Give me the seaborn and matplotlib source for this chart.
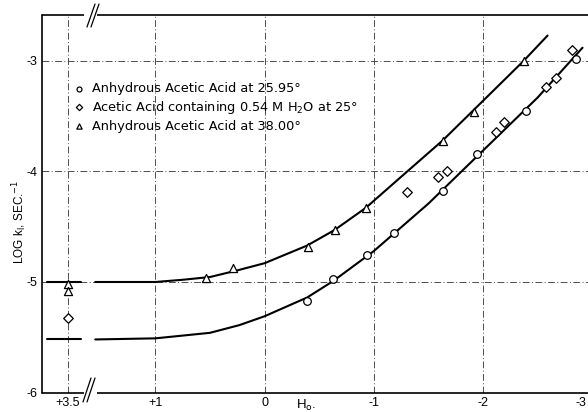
import numpy as np
import pandas as pd
import matplotlib
matplotlib.use("Agg")
import matplotlib.pyplot as plt
import matplotlib.transforms as mtransforms
import seaborn as sns
from matplotlib.lines import Line2D

# ---------------- data ----------------
h0_2595 = [-0.39, -0.63, -0.94, -1.18, -1.63, -1.94, -2.39, -2.85]
logk_2595 = [-5.17, -4.97, -4.76, -4.56, -4.18, -3.84, -3.45, -2.98]

h0_water = [3.5, -1.30, -1.59, -1.67, -2.12, -2.19, -2.58, -2.67, -2.81]
logk_water = [-5.33, -4.19, -4.05, -4.00, -3.64, -3.55, -3.24, -3.15, -2.90]

h0_3800 = [3.5, 3.5, 0.54, 0.29, -0.40, -0.64, -0.93, -1.63, -1.92, -2.37]
logk_3800 = [-5.02, -5.08, -4.96, -4.87, -4.68, -4.53, -4.33, -3.72, -3.46, -3.00]

# fitted curves (right of the axis break)
curve_upper_h = [1.55, 1.0, 0.75, 0.5, 0.25, 0.0, -0.39, -0.64, -0.925, -1.236, -1.629, -2.0, -2.37, -2.59]
curve_upper_logk = [-5.0, -5.0, -4.98, -4.955, -4.895, -4.83, -4.67, -4.53, -4.33, -4.06, -3.72, -3.36, -3.0, -2.77]
curve_lower_h = [1.55, 1.0, 0.5, 0.23, 0.0, -0.39, -0.63, -1.0, -1.5, -2.0, -2.5, -2.91]
curve_lower_logk = [-5.52, -5.51, -5.46, -5.39, -5.31, -5.14, -4.99, -4.72, -4.29, -3.81, -3.33, -2.88]
# fitted curves (left of the axis break, around H0 = +3.5)
curve_left_h = [4.95, 2.55]
curve_upper_left_logk = [-5.0, -5.0]
curve_lower_left_logk = [-5.52, -5.52]

x_ticks = [3.5, 1, 0, -1, -2, -3]
x_ticklabels = ["+3.5", "+1", "0", "-1", "-2", "-3"]
y_ticks = [-3, -4, -5, -6]
y_ticklabels = ["-3", "-4", "-5", "-6"]

labels = ["Anhydrous Acetic Acid at 25.95\u00b0",
          "Acetic Acid containing 0.54 M H$_2$O at 25\u00b0",
          "Anhydrous Acetic Acid at 38.00\u00b0"]

# ---------------- style ----------------
sns.set_theme(style="white")
plt.rcParams['font.family'] = ['Liberation Sans', 'DejaVu Sans']
plt.rcParams['mathtext.fontset'] = 'dejavusans'
plt.rcParams['text.color'] = 'black'

W, H = 588, 412
fig = plt.figure(figsize=(W / 100, H / 100), dpi=100)
fig.patch.set_facecolor("white")
ax = fig.add_axes([42 / W, 1 - 392.5 / H, (600 - 42) / W, 377.5 / H])
ax.set_facecolor("white")

# broken x axis: region above H0 = 1.55 is compressed
B, K = 1.55, 0.13
def fwd(x):
    x = np.asarray(x, dtype=float)
    return np.where(x <= B, x, B + (x - B) * K)
def inv(p):
    p = np.asarray(p, dtype=float)
    return np.where(p <= B, p, B + (p - B) / K)
ax.set_xscale("function", functions=(fwd, inv))
ax.set_xlim(5.3, -3.07)
ax.set_ylim(-6, -2.584)

# ticks and grid
ax.set_xticks(x_ticks)
ax.set_xticklabels(x_ticklabels)
ax.set_yticks(y_ticks)
ax.set_yticklabels(y_ticklabels)
ax.grid(True, linestyle=(0, (7, 2.5, 1, 2.5)), color="0.3", linewidth=0.7)
ax.tick_params(length=0, labelsize=9, colors="black")
ax.tick_params(axis="x", pad=3)
ax.tick_params(axis="y", pad=3)
last = ax.get_xticklabels()[-1]
last.set_ha("right")
last.set_transform(last.get_transform() +
                   mtransforms.ScaledTranslation(-6 / 100, 0, fig.dpi_scale_trans))

# curves
lk = dict(color="black", linewidth=1.5, sort=False, estimator=None, legend=False)
sns.lineplot(x=curve_upper_h, y=curve_upper_logk, ax=ax, **lk)
sns.lineplot(x=curve_lower_h, y=curve_lower_logk, ax=ax, **lk)
sns.lineplot(x=curve_left_h, y=curve_upper_left_logk, ax=ax, **lk)
sns.lineplot(x=curve_left_h, y=curve_lower_left_logk, ax=ax, **lk)

# points
sk = dict(color="white", edgecolor="black", linewidth=0.9, zorder=5)
sns.scatterplot(x=h0_2595, y=logk_2595, marker="o", s=30, ax=ax, label=labels[0], **sk)
sns.scatterplot(x=h0_water, y=logk_water, marker="D", s=24, ax=ax, label=labels[1], **sk)
sns.scatterplot(x=h0_3800, y=logk_3800, marker="^", s=34, ax=ax, label=labels[2], **sk)

leg = ax.legend(loc="upper left", bbox_to_anchor=(73 / W, 1 - 82 / H),
                bbox_transform=fig.transFigure, frameon=False,
                prop=dict(family="DejaVu Sans", size=9.3),
                handlelength=1.0, handletextpad=0.5, labelspacing=0.3,
                borderpad=0, borderaxespad=0, markerscale=0.65)
for t in leg.get_texts():
    t.set_color("black")

# spines: left drawn, top/bottom drawn manually with a break gap
for s in ["top", "bottom", "right"]:
    ax.spines[s].set_visible(False)
ax.spines["left"].set_color("black")
ax.spines["left"].set_linewidth(1.2)
tr = ax.get_xaxis_transform()
for yy in (0, 1):
    ax.plot([5.3, 2.33], [yy, yy], transform=tr, color="black", lw=1.2, clip_on=False,
            solid_capstyle="butt")
    ax.plot([1.532, -3.07], [yy, yy], transform=tr, color="black", lw=1.2, clip_on=False,
            solid_capstyle="butt")

# break marks "//"
def fig_line(x0, y0, x1, y1):
    fig.add_artist(Line2D([x0 / W, x1 / W], [1 - y0 / H, 1 - y1 / H],
                          color="black", lw=0.9, transform=fig.transFigure))
for dx in (0, 4):
    fig_line(87 + dx, 27, 95 + dx, 4)
    fig_line(83 + dx, 402, 91 + dx, 378)

# axis labels
ax.set_xlabel("")
ax.set_ylabel("")
fig.text(306 / W, 1 - 405 / H, "H$_{\\rm o}$.", ha="center", va="center",
         fontsize=9.5, color="black")
fig.text(20 / W, 1 - 222 / H, "LOG k$_{\\rm I}$, SEC.$^{-1}$", rotation=90,
         ha="center", va="center", fontsize=8.5, color="black")

fig.savefig("out.png", dpi=100)
